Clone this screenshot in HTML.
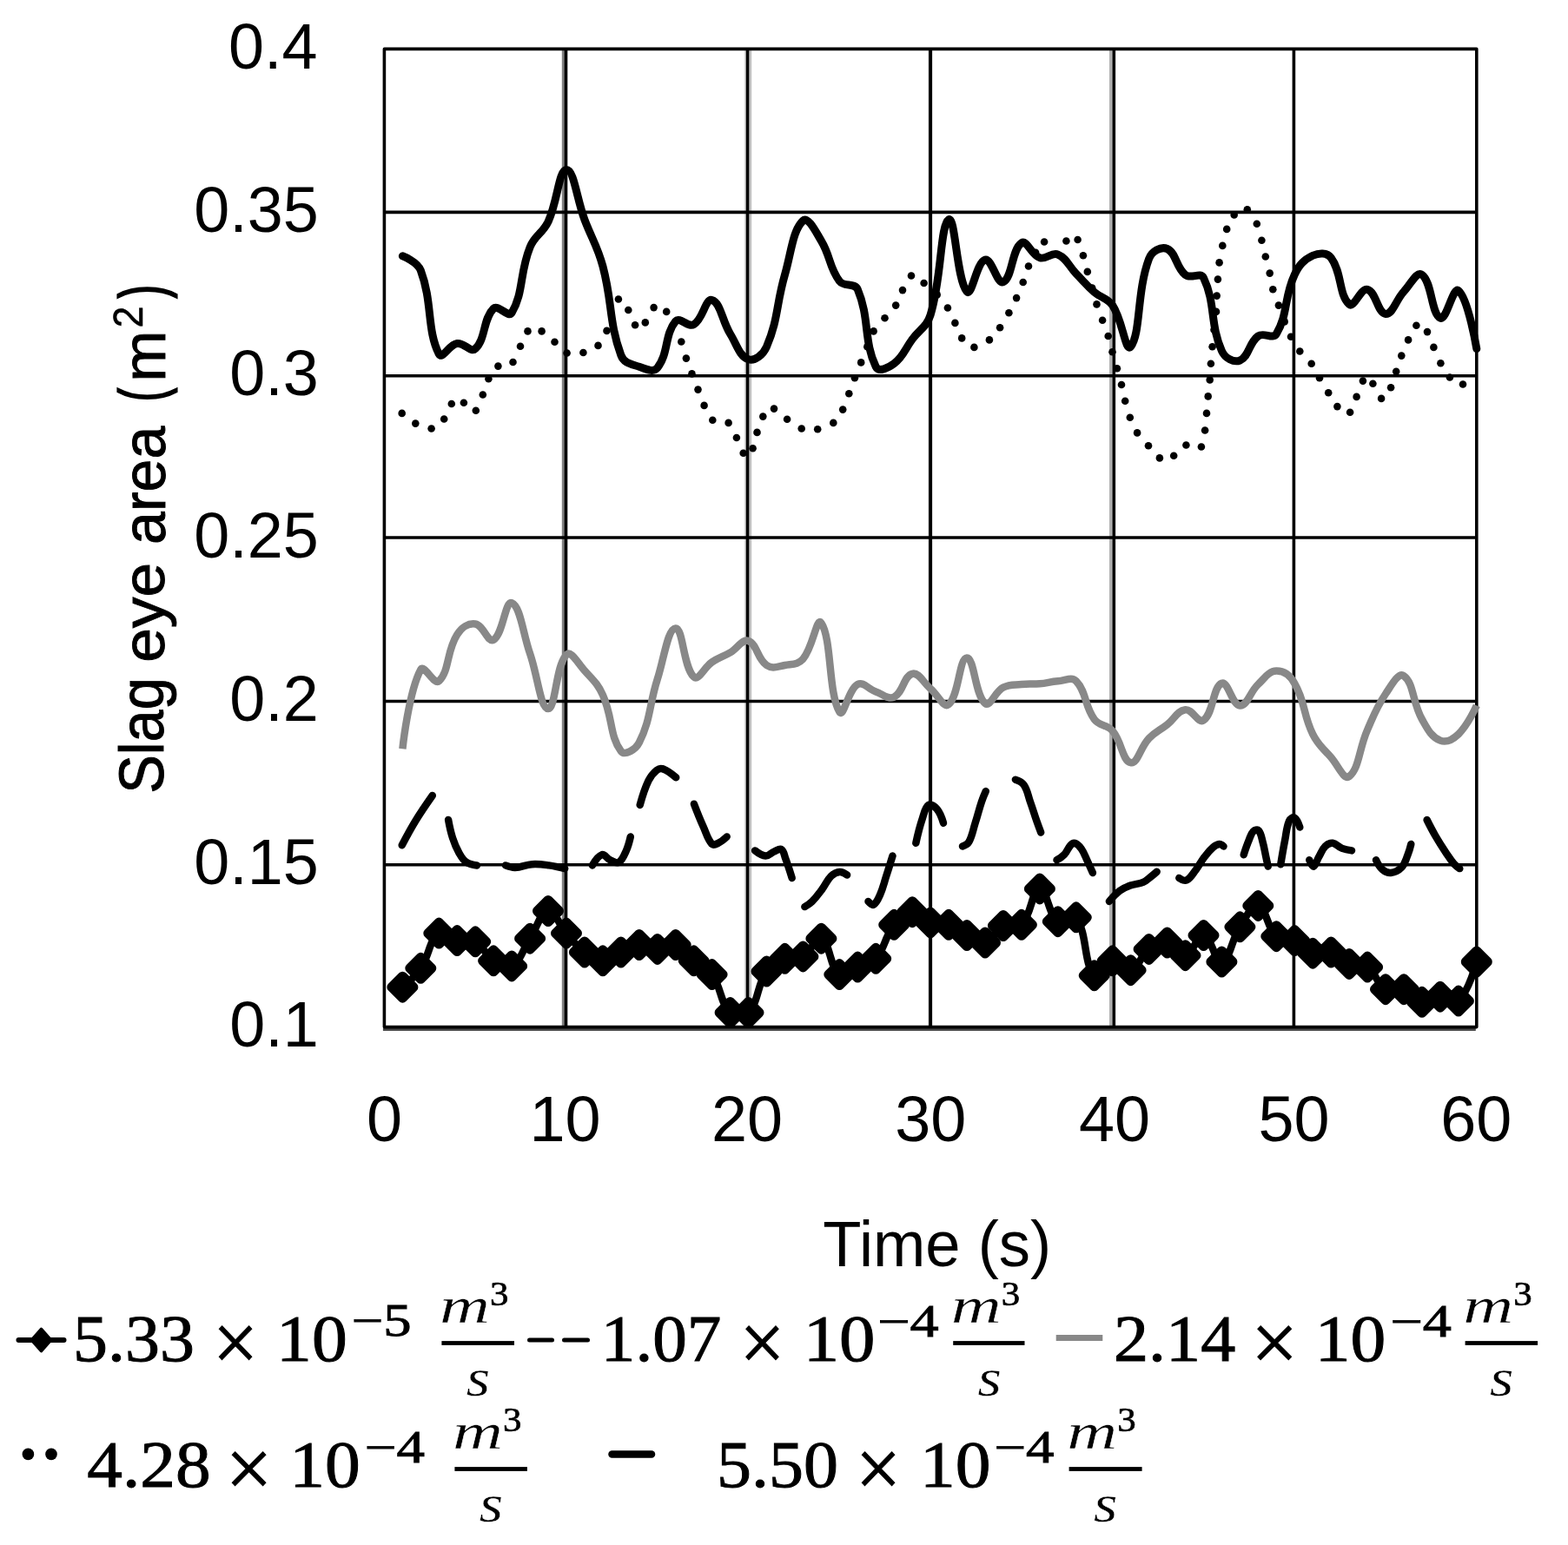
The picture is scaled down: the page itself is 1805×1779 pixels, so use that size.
<!DOCTYPE html>
<html lang="en"><head><meta charset="utf-8"><title>Slag eye area vs time</title>
<style>html,body{margin:0;padding:0;background:#fff}svg{display:block}.s{font-family:"Liberation Sans",sans-serif;fill:#000}.m{font-family:"Liberation Serif",serif;fill:#000;stroke:#000}.i{font-family:"Liberation Serif",serif;font-style:italic;fill:#000;paint-order:fill stroke}</style></head><body>
<svg width="1805" height="1779" viewBox="0 0 1805 1779">
<rect x="-5" y="-5" width="1815" height="1789" fill="#fff"/>
<line x1="648.5" y1="56.4" x2="648.5" y2="1182.6" stroke="#808080" stroke-width="3.4"/>
<line x1="863.6" y1="56.4" x2="863.6" y2="1182.6" stroke="#c2c2c2" stroke-width="3.2"/>
<line x1="857.9" y1="56.4" x2="857.9" y2="1182.6" stroke="#dddddd" stroke-width="2.2"/>
<line x1="1069.6" y1="56.4" x2="1069.6" y2="1182.6" stroke="#555555" stroke-width="1.6"/>
<line x1="1278.8" y1="56.4" x2="1278.8" y2="1182.6" stroke="#b0b0b0" stroke-width="3.6"/>
<line x1="440.9" y1="1185.4" x2="1698.8" y2="1185.4" stroke="#4a4a4a" stroke-width="3"/>
<g stroke="#000" stroke-width="3.6" fill="none" stroke-linejoin="round">
<rect x="442.4" y="56.4" width="1257.4" height="1126.2"/>
<line x1="651.5" y1="56.4" x2="651.5" y2="1182.6"/>
<line x1="860.5" y1="56.4" x2="860.5" y2="1182.6"/>
<line x1="1071.3" y1="56.4" x2="1071.3" y2="1182.6"/>
<line x1="1282.3" y1="56.4" x2="1282.3" y2="1182.6"/>
<line x1="1489.4" y1="56.4" x2="1489.4" y2="1182.6"/>
<line x1="442.4" y1="244.4" x2="1699.8" y2="244.4"/>
<line x1="442.4" y1="432.7" x2="1699.8" y2="432.7"/>
<line x1="442.4" y1="619" x2="1699.8" y2="619"/>
<line x1="442.4" y1="807.5" x2="1699.8" y2="807.5"/>
<line x1="442.4" y1="995.8" x2="1699.8" y2="995.8"/>
</g>
<path d="M463.4 862.3C463.4 862.3 470.4 796.8 484.3 770.9C488 764.1 500 789.4 505.3 784.3C517.6 772.5 513.8 750.2 526.2 730.7C531.4 722.5 539 717.3 547.2 718.5C556.6 719.9 561.6 740.6 568.1 736.8C579.2 730.3 581.5 691.2 589.1 694.1C599.1 697.9 601.6 728 610.1 752.6C619.2 779.2 622.1 815.8 631 816C639.7 816.3 639.6 766.8 652 753.9C657.2 748.4 665.1 763.5 672.9 772.1C682.7 783 687.9 786.9 693.9 800.2C705.5 825.9 701.7 847.6 714.8 864.8C719.3 870.6 731.7 863.1 735.8 855C749.3 828.3 747.1 812.3 756.8 781.9C764.7 757 768.7 723.9 777.7 723.4C786.3 722.9 786.5 768.2 798.7 779.5C804.1 784.5 810.2 768.7 819.6 762.4C827.8 756.9 832 756.4 840.6 751.4C849.6 746.2 854.2 735.5 861.5 738C871.8 741.6 871.5 758.7 882.5 766C889.1 770.5 894.9 767.5 903.5 766C912.5 764.5 918.7 765.4 924.4 758.7C936.3 744.9 940 709.4 945.4 717.3C957.6 735 953.4 797.9 966.3 819.7C971 827.6 976.2 794.1 987.3 788C993.9 784.4 999.3 793.4 1008.2 796.5C1016.9 799.5 1022.3 806 1029.2 802.6C1039.9 797.3 1040.3 778.1 1050.2 775.8C1057.9 774 1062.4 785.5 1071.1 792.9C1080 800.4 1086.3 816 1092.1 811.1C1103.9 801.1 1104.1 757.8 1113 757.5C1121.7 757.3 1122.2 800.3 1134 809.9C1139.8 814.7 1145 796.9 1154.9 791.6C1162.6 787.6 1167 788.9 1175.9 788C1184.6 787.1 1188.1 788 1196.9 787.3C1205.7 786.5 1209 784.9 1217.8 784.3C1226.6 783.7 1233.5 778.8 1238.8 784.3C1251.1 797.2 1248.1 812.3 1259.7 828.2C1265.7 836.4 1274.1 833.8 1280.7 841.6C1291.7 854.8 1292 876.2 1301.6 878.2C1309.6 879.8 1312.5 860.7 1322.6 850.2C1330.1 842.2 1334.9 841.1 1343.6 834.3C1352.5 827.3 1355.2 818.3 1364.5 817.2C1372.8 816.3 1379.5 833.8 1385.5 829.4C1397.1 821 1396 791 1406.4 786.8C1413.6 783.8 1418.5 812.1 1427.4 812.4C1436.1 812.6 1438.6 797.2 1448.3 788C1456.2 780.5 1460.4 772.9 1469.3 772.6C1478 772.4 1485.2 777.9 1490.2 786.8C1502.8 808.5 1499.8 822.1 1511.2 845.3C1517.4 858 1522.9 861.3 1532.2 872.1C1540.5 881.7 1547 898.6 1553.1 894C1564.6 885.3 1564.3 862.5 1574.1 840.4C1581.9 822.6 1584.3 814.9 1595 799C1601.9 788.8 1609.8 773.9 1616 778.2C1627.4 786.2 1625.9 808.6 1636.9 828.2C1643.5 839.8 1647.5 848.3 1657.9 852.6C1665.1 855.5 1672.5 851.4 1678.9 845.3C1690.1 834.5 1699.8 812.4 1699.8 812.4" fill="none" stroke="#888" stroke-width="8.5" stroke-linejoin="round"/>
<g fill="#000"><circle cx="462.7" cy="475.9" r="4.3"/><circle cx="478.3" cy="487.6" r="4.3"/><circle cx="496.6" cy="493.5" r="4.3"/><circle cx="511.2" cy="482.5" r="4.3"/><circle cx="519.8" cy="465" r="4.3"/><circle cx="533.9" cy="463.8" r="4.3"/><circle cx="547.8" cy="472.8" r="4.3"/><circle cx="555.8" cy="454.5" r="4.3"/><circle cx="562.4" cy="436.2" r="4.3"/><circle cx="573.4" cy="421.6" r="4.3"/><circle cx="590.5" cy="417" r="4.3"/><circle cx="599" cy="398.7" r="4.3"/><circle cx="607.5" cy="381.4" r="4.3"/><circle cx="623.6" cy="381.4" r="4.3"/><circle cx="638.5" cy="393.8" r="4.3"/><circle cx="652.6" cy="406.5" r="4.3"/><circle cx="671.4" cy="406" r="4.3"/><circle cx="688.5" cy="397.9" r="4.3"/><circle cx="698.5" cy="380.9" r="4.3"/><circle cx="711.9" cy="344.5" r="4.3"/><circle cx="723.3" cy="357" r="4.3"/><circle cx="731.1" cy="374.3" r="4.3"/><circle cx="742.8" cy="371.4" r="4.3"/><circle cx="752.6" cy="354.1" r="4.3"/><circle cx="767.2" cy="358.9" r="4.3"/><circle cx="784.3" cy="393.5" r="4.3"/><circle cx="789.9" cy="412.6" r="4.3"/><circle cx="796.5" cy="430.4" r="4.3"/><circle cx="803.5" cy="448.6" r="4.3"/><circle cx="810.6" cy="466.9" r="4.3"/><circle cx="820.3" cy="483.7" r="4.3"/><circle cx="838.6" cy="486.9" r="4.3"/><circle cx="847.9" cy="504" r="4.3"/><circle cx="855.7" cy="521.8" r="4.3"/><circle cx="866.6" cy="516.2" r="4.3"/><circle cx="871.5" cy="497.9" r="4.3"/><circle cx="878.3" cy="479.6" r="4.3"/><circle cx="891" cy="470.6" r="4.3"/><circle cx="906.1" cy="482.8" r="4.3"/><circle cx="922.7" cy="493.5" r="4.3"/><circle cx="941.2" cy="494.2" r="4.3"/><circle cx="959.3" cy="486.9" r="4.3"/><circle cx="970.2" cy="471.6" r="4.3"/><circle cx="977.3" cy="453.3" r="4.3"/><circle cx="983.9" cy="435.2" r="4.3"/><circle cx="991.2" cy="417.4" r="4.3"/><circle cx="998.3" cy="399.2" r="4.3"/><circle cx="1005.6" cy="381.4" r="4.3"/><circle cx="1018.5" cy="366.2" r="4.3"/><circle cx="1031.2" cy="351.6" r="4.3"/><circle cx="1039" cy="334.1" r="4.3"/><circle cx="1049" cy="317.5" r="4.3"/><circle cx="1063.6" cy="326" r="4.3"/><circle cx="1078.7" cy="339.4" r="4.3"/><circle cx="1090.9" cy="354.5" r="4.3"/><circle cx="1099.4" cy="371.9" r="4.3"/><circle cx="1107.2" cy="389.4" r="4.3"/><circle cx="1121.4" cy="399.9" r="4.3"/><circle cx="1138.9" cy="391.4" r="4.3"/><circle cx="1151.1" cy="377.2" r="4.3"/><circle cx="1161.4" cy="360.2" r="4.3"/><circle cx="1170.1" cy="343.1" r="4.3"/><circle cx="1177.7" cy="325" r="4.3"/><circle cx="1184" cy="306.5" r="4.3"/><circle cx="1192.1" cy="290.7" r="4.3"/><circle cx="1202.1" cy="278.5" r="4.3"/><circle cx="1227.4" cy="277.5" r="4.3"/><circle cx="1240.6" cy="276" r="4.3"/><circle cx="1246.9" cy="294.3" r="4.3"/><circle cx="1251.8" cy="312.9" r="4.3"/><circle cx="1257.2" cy="331.6" r="4.3"/><circle cx="1262.5" cy="350.4" r="4.3"/><circle cx="1269.1" cy="368.7" r="4.3"/><circle cx="1275.7" cy="387" r="4.3"/><circle cx="1280.5" cy="405.3" r="4.3"/><circle cx="1285.9" cy="424.3" r="4.3"/><circle cx="1291" cy="443" r="4.3"/><circle cx="1295.2" cy="461.8" r="4.3"/><circle cx="1300.8" cy="480.8" r="4.3"/><circle cx="1309.1" cy="498.4" r="4.3"/><circle cx="1322" cy="513.2" r="4.3"/><circle cx="1334.9" cy="527.4" r="4.3"/><circle cx="1351.2" cy="524.7" r="4.3"/><circle cx="1365.4" cy="512.5" r="4.3"/><circle cx="1382.9" cy="514.5" r="4.3"/><circle cx="1387.1" cy="495.5" r="4.3"/><circle cx="1389" cy="475.9" r="4.3"/><circle cx="1390.7" cy="456.4" r="4.3"/><circle cx="1392.7" cy="437.4" r="4.3"/><circle cx="1393.9" cy="418.7" r="4.3"/><circle cx="1395.6" cy="399.2" r="4.3"/><circle cx="1397.5" cy="379.7" r="4.3"/><circle cx="1400" cy="358.9" r="4.3"/><circle cx="1400.7" cy="340.6" r="4.3"/><circle cx="1401.9" cy="321.6" r="4.3"/><circle cx="1403.6" cy="302.4" r="4.3"/><circle cx="1407.3" cy="282.9" r="4.3"/><circle cx="1412.2" cy="263.9" r="4.3"/><circle cx="1420.7" cy="247.5" r="4.3"/><circle cx="1435.8" cy="241.2" r="4.3"/><circle cx="1446.8" cy="257.8" r="4.3"/><circle cx="1452.4" cy="276.8" r="4.3"/><circle cx="1456.8" cy="295.5" r="4.3"/><circle cx="1461.7" cy="314.6" r="4.3"/><circle cx="1465.3" cy="333.3" r="4.3"/><circle cx="1471.9" cy="351.6" r="4.3"/><circle cx="1478.7" cy="370.4" r="4.3"/><circle cx="1486" cy="387.7" r="4.3"/><circle cx="1496.3" cy="404.5" r="4.3"/><circle cx="1509.7" cy="418.7" r="4.3"/><circle cx="1519" cy="435.2" r="4.3"/><circle cx="1529.2" cy="452.3" r="4.3"/><circle cx="1539.4" cy="468.1" r="4.3"/><circle cx="1554.1" cy="474.7" r="4.3"/><circle cx="1561.6" cy="456.9" r="4.3"/><circle cx="1568.9" cy="438.6" r="4.3"/><circle cx="1580.4" cy="441.8" r="4.3"/><circle cx="1590.1" cy="458.9" r="4.3"/><circle cx="1601.1" cy="446.2" r="4.3"/><circle cx="1607.2" cy="427.7" r="4.3"/><circle cx="1613.3" cy="409.6" r="4.3"/><circle cx="1621.1" cy="391.4" r="4.3"/><circle cx="1630.4" cy="374.8" r="4.3"/><circle cx="1643" cy="382.1" r="4.3"/><circle cx="1650.4" cy="399.9" r="4.3"/><circle cx="1658.4" cy="418.2" r="4.3"/><circle cx="1668.9" cy="434.5" r="4.3"/><circle cx="1684" cy="442.5" r="4.3"/></g>
<g fill="none" stroke="#000" stroke-width="8.5" stroke-linecap="round" stroke-linejoin="round">
<path d="M462.7 973.3C462.7 973.3 471.6 956.2 478.3 945.2C485.7 933.2 497.8 916 497.8 916"/>
<path d="M516.1 944C516.1 944 518.4 956.7 521 964.7C523.3 971.8 524.7 975.4 528.3 981.8C531 986.6 532.5 989.7 536.8 992.8C540.8 995.6 549 996.4 549 996.4"/>
<path d="M581.9 996.4C581.9 996.4 588.5 999 592.9 998.9C600.7 998.5 604.5 995.7 612.4 995.2C620.1 994.7 624.2 995.4 631.9 996.4C639.3 997.4 650.2 1000.1 650.2 1000.1"/>
<path d="M681.9 996.4C681.9 996.4 688 985.7 692.8 984.2C696.3 983.2 698.4 988.5 702.6 990.3C706.2 991.9 709.5 994.5 712.4 992.8C716.8 990.1 718.3 985.1 720.9 979.4C723.6 973.4 725.8 963.5 725.8 963.5"/>
<path d="M736.7 926.9C736.7 926.9 741.4 909.5 746.5 898.9C749.2 893.4 751.6 890.4 756.2 886.7C758.4 885 760.9 884.5 763.5 885.5C769.7 887.9 778.2 895.3 778.2 895.3"/>
<path d="M798.9 925.7C798.9 925.7 805.1 942 809.9 952.5C813.4 960.5 814.5 966.6 819.6 972C821.3 973.9 824.3 972.1 826.9 970.8C831.2 968.7 836.7 963.5 836.7 963.5"/>
<path d="M869.1 979.4C869.1 979.4 876.4 985.2 881.3 985.5C885.2 985.7 887 982.2 891 980.6C894.3 979.3 897.3 976.7 899.5 978.1C902.6 980.1 902.7 984.6 904.4 989.1C907.6 997.8 911.7 1011 911.7 1011"/>
<path d="M926.4 1044.1C926.4 1044.1 931.9 1041 934.9 1038C939.7 1033.2 941.7 1030.1 945.9 1024.6C950.5 1018.4 951.5 1014.1 956.8 1008.8C959.8 1005.8 962.6 1004.1 966.6 1003.9C969.9 1003.7 975.1 1007.5 975.1 1007.5"/>
<path d="M999.5 1038C999.5 1038 1003.7 1042.7 1005.6 1041.7C1009.1 1039.8 1010.8 1035.5 1012.9 1030.7C1016.6 1022.3 1017.4 1017.6 1020.2 1008.8C1023.2 999.5 1027.5 985.6 1027.5 985.6"/>
<path d="M1054.3 970.8C1054.3 970.8 1058 953.7 1061.7 942.8C1063.9 936.2 1064.8 929.6 1069 926.9C1071.6 925.3 1076.1 928.6 1078.7 931.8C1082.9 936.9 1086 947.7 1086 947.7"/>
<path d="M1108 974.5C1108 974.5 1113.7 972.6 1115.3 969.6C1119.5 961.8 1119.8 956.5 1122.6 947.7C1125.7 938 1126.7 932.9 1129.9 923.3C1131.6 918.3 1134.8 911.1 1134.8 911.1"/>
<path d="M1168.9 897.7C1168.9 897.7 1176.2 900.1 1178.7 903.8C1183.1 910.4 1183.2 915.4 1186 923.3C1189.1 932 1190.3 936.5 1193.3 945.2C1195.2 950.6 1198.2 958.6 1198.2 958.6"/>
<path d="M1216.5 990.3C1216.5 990.3 1222.2 987.3 1225 984.2C1228.5 980.4 1228.9 977.1 1232.3 973.3C1233.7 971.7 1235.4 970.3 1237.2 970.8C1240.3 971.8 1242.3 973.9 1244.5 976.9C1248.2 982.2 1249 985.6 1251.8 991.5C1254.3 996.9 1257.9 1005 1257.9 1005"/>
<path d="M1276.9 1037.9C1276.9 1037.9 1283.6 1029.8 1289.1 1025.7C1293.4 1022.4 1296.2 1021.4 1301.3 1019.6C1306.9 1017.5 1310.4 1018.2 1315.9 1015.9C1319.7 1014.3 1321.1 1012.4 1324.4 1009.8C1327.4 1007.5 1331.7 1003.7 1331.7 1003.7"/>
<path d="M1357.3 1011C1357.3 1011 1363.1 1014.9 1365.9 1013.5C1370.9 1011 1372.8 1006.5 1376.8 1001.3C1381.1 995.7 1382.3 992.2 1386.6 986.7C1390.1 982 1391.9 979.5 1396.3 975.7C1398.8 973.6 1400.7 972.3 1403.6 972C1405.6 971.8 1408.5 974.5 1408.5 974.5"/>
<path d="M1431.7 984.2C1431.7 984.2 1435 973.9 1437.8 967.2C1439.4 963.1 1439.9 960.2 1442.6 957.4C1444.2 955.8 1447.4 954.7 1448.7 956.2C1451.8 959.6 1452.1 964.1 1453.6 969.6C1455.5 976.3 1455.8 979.8 1457.3 986.7C1458.2 991.1 1459.7 997.6 1459.7 997.6"/>
<path d="M1474.3 995.2C1474.3 995.2 1477 978.3 1479.2 967.2C1480.9 958.3 1480.8 953 1484.1 945.2C1485.1 942.8 1488.4 940.5 1490.2 941.6C1493.3 943.4 1496.3 952.5 1496.3 952.5"/>
<path d="M1507.3 990.3C1507.3 990.3 1510.3 998.2 1512.1 997.6C1514.7 996.8 1515.7 991 1518.2 986.7C1521.1 981.7 1521.7 978.3 1525.5 974.5C1528 972 1530.8 970.4 1534.1 970.8C1538.6 971.4 1540.4 975.1 1545 976.9C1549.2 978.5 1556 979.4 1556 979.4"/>
<path d="M1584 990.3C1584 990.3 1587.5 998 1591.4 1001.3C1594.4 1003.9 1597.3 1005.4 1601.1 1005C1606.1 1004.4 1609.8 1002.6 1613.3 998.9C1617.6 994.3 1618.1 990.3 1620.6 984.2C1622.5 979.5 1624.3 972 1624.3 972"/>
<path d="M1642.6 944C1642.6 944 1648.1 955.1 1652.3 962.3C1656.9 970.2 1659.4 974.1 1664.5 981.8C1668.2 987.3 1669.9 990.2 1674.2 995.2C1676.3 997.5 1680.3 1000.1 1680.3 1000.1"/>
</g>
<path d="M463.4 294.8C463.4 294.8 480.6 301.3 484.3 311.4C498.2 348.7 491.1 379.3 505.3 407.7C508.7 414.7 517 396.8 526.2 395.5C534.6 394.3 541.9 406.7 547.2 401.6C559.5 389.8 555.8 367.5 568.1 355.3C573.4 350.1 585.3 366.5 589.1 360.2C602.9 336.9 598 314.8 610.1 284.6C615.6 270.7 624.6 268.9 631 255.3C642.2 231.5 643 196.1 652 195.6C660.6 195.1 663.9 228.9 672.9 252.9C681.5 275.5 687.6 283.2 693.9 306.5C705.2 348.8 700.6 369.6 714.8 408.9C718.2 418.3 726.3 419 735.8 422.3C743.9 425.1 752.1 429.4 756.8 423.5C769.7 407.4 764.9 385.2 777.7 369.9C782.5 364.2 792 377.4 798.7 373.6C809.6 367.2 811.9 343.5 819.6 345.5C829.5 348.1 830.9 368.7 840.6 384.5C848.5 397.4 851.2 410.2 861.5 413.8C868.9 416.3 878.4 408.6 882.5 399.2C896 367.6 893.5 350.7 903.5 316.3C911.1 289.8 912.5 265.2 924.4 254.1C930.1 248.8 938.7 266.2 945.4 277.3C956.3 295.3 954.2 307.4 966.3 323.6C971.8 330.9 983.7 325 987.3 333.3C1001.3 366.4 994 393.2 1008.2 422.3C1011.6 429.1 1022.5 423.7 1029.2 418.7C1040.1 410.4 1041.4 402.4 1050.2 390.6C1059 378.8 1066.9 376.4 1071.1 362.6C1084.5 318.5 1082.1 259.3 1092.1 252.9C1099.7 248 1101.2 322.7 1113 335.8C1118.8 342.2 1124.1 301.8 1134 299.2C1141.7 297.2 1147.9 328.1 1154.9 324.8C1165.5 319.9 1164.5 287.3 1175.9 279.7C1182.1 275.6 1187 293.6 1196.9 296.8C1204.6 299.2 1210.6 289.9 1217.8 293.1C1228.2 297.6 1229.9 305.9 1238.8 315.1C1247.5 324 1250.3 328.1 1259.7 336.3C1267.9 343.4 1274.8 342.8 1280.7 351.6C1292.4 369.2 1295.7 406.7 1301.6 399.2C1313.4 384.2 1308.3 336.4 1322.6 298C1325.9 289.1 1336.6 283.5 1343.6 286.5C1354.2 291.2 1353.4 307.6 1364.5 316.5C1371 321.7 1382 312.7 1385.5 319.9C1399.6 349.5 1392.6 372.7 1406.4 404C1410.2 412.6 1420.3 417.9 1427.4 415C1437.9 410.7 1437.4 395 1448.3 387C1455 382.2 1465.3 391.3 1469.3 384.5C1482.9 361.6 1477.9 342.9 1490.2 316.3C1495.5 305 1500.8 299.2 1511.2 294.3C1518.4 291 1527.4 290.5 1532.2 296.8C1545 314 1541.1 339.9 1553.1 350.4C1558.7 355.3 1566.4 331.3 1574.1 333.3C1584 335.9 1586 360.8 1595 361.4C1603.6 361.9 1606.6 345.9 1616 335.8C1624.2 327 1630.9 311.8 1636.9 316.3C1648.5 324.6 1647.6 361.7 1657.9 366.2C1665.2 369.4 1672.7 329.3 1678.9 334.6C1690.3 344.2 1699.8 401.6 1699.8 401.6" fill="none" stroke="#000" stroke-width="9" stroke-linecap="round" stroke-linejoin="round"/>
<path d="M463.4 1136.7C463.4 1136.7 477.3 1125.3 484.3 1114.8C494.9 1099.2 493.5 1083.5 505.3 1074.6C511.1 1070.1 517.1 1081 526.2 1083.1C534.7 1085.1 540 1080.4 547.2 1084.3C557.6 1090.1 557.9 1099.4 568.1 1106.3C575.5 1111.2 582.7 1116.3 589.1 1112.4C600.3 1105.5 601.3 1094 610.1 1080.7C618.9 1067.4 621.6 1050.3 631 1049C639.2 1047.8 642.8 1064.2 652 1074.6C660.4 1084.1 662.9 1089 672.9 1096.5C680.5 1102.3 685.1 1106.3 693.9 1106.3C702.7 1106.3 705.9 1100.4 714.8 1096.5C723.5 1092.7 726.8 1088.8 735.8 1088C744.4 1087.2 748 1092.9 756.8 1092.9C765.6 1092.9 770 1085.5 777.7 1088C787.6 1091.2 789.6 1098.9 798.7 1106.3C807.2 1113.2 813.5 1113.3 819.6 1122.1C831.1 1138.4 828.3 1153.1 840.6 1166C845.9 1171.5 856.5 1171.7 861.5 1166C874.1 1151.8 870.7 1136 882.5 1118.5C888.3 1109.9 893.8 1107.8 903.5 1103.8C911.4 1100.6 917.1 1105.5 924.4 1101.4C934.7 1095.7 938.5 1077.3 945.4 1080.7C956.1 1086 954.5 1112.8 966.3 1122.1C972.1 1126.6 978.6 1117.4 987.3 1113.6C996.2 1109.7 1002.2 1110.9 1008.2 1103.8C1019.8 1090.4 1018 1079.1 1029.2 1064.8C1035.6 1056.6 1041.1 1050.7 1050.2 1050.2C1058.7 1049.7 1061.7 1059.1 1071.1 1062.4C1079.3 1065.2 1083.9 1062 1092.1 1064.8C1101.5 1068.1 1103.9 1072.5 1113 1077C1121.5 1081.2 1126.2 1087.6 1134 1085.5C1143.8 1083 1144.8 1071.1 1154.9 1066C1162.4 1062.4 1170.4 1070.4 1175.9 1064.8C1188 1052.5 1187.7 1024.2 1196.9 1023.4C1205.3 1022.6 1206.1 1051.9 1217.8 1061.2C1223.7 1065.8 1234.6 1050.2 1238.8 1056.3C1252.2 1076.3 1247 1108.2 1259.7 1123.3C1264.6 1129.2 1271.3 1107.6 1280.7 1106.3C1288.9 1105.1 1294.2 1119.6 1301.6 1117.2C1311.8 1114 1312.2 1100.7 1322.6 1092.9C1329.8 1087.4 1335.4 1084.1 1343.6 1085.5C1353 1087.2 1356.6 1101.8 1364.5 1100.2C1374.2 1098.2 1377.4 1075.6 1385.5 1077C1395 1078.7 1398.5 1109.3 1406.4 1107.5C1416.1 1105.2 1417.1 1083.1 1427.4 1067.3C1434.7 1056 1440.6 1040.9 1448.3 1042.9C1458.2 1045.5 1457.7 1067.1 1469.3 1078.2C1475.3 1084 1482.2 1079.4 1490.2 1083.1C1499.8 1087.6 1501.5 1094.6 1511.2 1097.7C1519.1 1100.3 1524.1 1094.2 1532.2 1096.5C1541.7 1099.3 1543.6 1106.1 1553.1 1109.9C1561.2 1113.2 1567.2 1108.8 1574.1 1113.6C1584.8 1121.1 1584.3 1132.6 1595 1139.2C1601.9 1143.4 1608.1 1136.4 1616 1139.2C1625.7 1142.6 1627.5 1151.9 1636.9 1153.8C1645.1 1155.5 1649 1148 1657.9 1147.7C1666.6 1147.5 1673.5 1157.7 1678.9 1152.6C1691.2 1140.8 1699.8 1107.5 1699.8 1107.5" fill="none" stroke="#000" stroke-width="8.5" stroke-linejoin="round" stroke-linecap="round"/>
<g fill="#000" stroke="#000" stroke-width="11" stroke-linejoin="round"><path d="M450.9 1136.7l12.5 -12.5l12.5 12.5l-12.5 12.5z"/><path d="M471.8 1114.8l12.5 -12.5l12.5 12.5l-12.5 12.5z"/><path d="M492.8 1074.6l12.5 -12.5l12.5 12.5l-12.5 12.5z"/><path d="M513.7 1083.1l12.5 -12.5l12.5 12.5l-12.5 12.5z"/><path d="M534.7 1084.3l12.5 -12.5l12.5 12.5l-12.5 12.5z"/><path d="M555.6 1106.3l12.5 -12.5l12.5 12.5l-12.5 12.5z"/><path d="M576.6 1112.4l12.5 -12.5l12.5 12.5l-12.5 12.5z"/><path d="M597.6 1080.7l12.5 -12.5l12.5 12.5l-12.5 12.5z"/><path d="M618.5 1049l12.5 -12.5l12.5 12.5l-12.5 12.5z"/><path d="M639.5 1074.6l12.5 -12.5l12.5 12.5l-12.5 12.5z"/><path d="M660.4 1096.5l12.5 -12.5l12.5 12.5l-12.5 12.5z"/><path d="M681.4 1106.3l12.5 -12.5l12.5 12.5l-12.5 12.5z"/><path d="M702.3 1096.5l12.5 -12.5l12.5 12.5l-12.5 12.5z"/><path d="M723.3 1088l12.5 -12.5l12.5 12.5l-12.5 12.5z"/><path d="M744.3 1092.9l12.5 -12.5l12.5 12.5l-12.5 12.5z"/><path d="M765.2 1088l12.5 -12.5l12.5 12.5l-12.5 12.5z"/><path d="M786.2 1106.3l12.5 -12.5l12.5 12.5l-12.5 12.5z"/><path d="M807.1 1122.1l12.5 -12.5l12.5 12.5l-12.5 12.5z"/><path d="M828.1 1166l12.5 -12.5l12.5 12.5l-12.5 12.5z"/><path d="M849 1166l12.5 -12.5l12.5 12.5l-12.5 12.5z"/><path d="M870 1118.5l12.5 -12.5l12.5 12.5l-12.5 12.5z"/><path d="M891 1103.8l12.5 -12.5l12.5 12.5l-12.5 12.5z"/><path d="M911.9 1101.4l12.5 -12.5l12.5 12.5l-12.5 12.5z"/><path d="M932.9 1080.7l12.5 -12.5l12.5 12.5l-12.5 12.5z"/><path d="M953.8 1122.1l12.5 -12.5l12.5 12.5l-12.5 12.5z"/><path d="M974.8 1113.6l12.5 -12.5l12.5 12.5l-12.5 12.5z"/><path d="M995.7 1103.8l12.5 -12.5l12.5 12.5l-12.5 12.5z"/><path d="M1016.7 1064.8l12.5 -12.5l12.5 12.5l-12.5 12.5z"/><path d="M1037.7 1050.2l12.5 -12.5l12.5 12.5l-12.5 12.5z"/><path d="M1058.6 1062.4l12.5 -12.5l12.5 12.5l-12.5 12.5z"/><path d="M1079.6 1064.8l12.5 -12.5l12.5 12.5l-12.5 12.5z"/><path d="M1100.5 1077l12.5 -12.5l12.5 12.5l-12.5 12.5z"/><path d="M1121.5 1085.5l12.5 -12.5l12.5 12.5l-12.5 12.5z"/><path d="M1142.4 1066l12.5 -12.5l12.5 12.5l-12.5 12.5z"/><path d="M1163.4 1064.8l12.5 -12.5l12.5 12.5l-12.5 12.5z"/><path d="M1184.4 1023.4l12.5 -12.5l12.5 12.5l-12.5 12.5z"/><path d="M1205.3 1061.2l12.5 -12.5l12.5 12.5l-12.5 12.5z"/><path d="M1226.3 1056.3l12.5 -12.5l12.5 12.5l-12.5 12.5z"/><path d="M1247.2 1123.3l12.5 -12.5l12.5 12.5l-12.5 12.5z"/><path d="M1268.2 1106.3l12.5 -12.5l12.5 12.5l-12.5 12.5z"/><path d="M1289.1 1117.2l12.5 -12.5l12.5 12.5l-12.5 12.5z"/><path d="M1310.1 1092.9l12.5 -12.5l12.5 12.5l-12.5 12.5z"/><path d="M1331.1 1085.5l12.5 -12.5l12.5 12.5l-12.5 12.5z"/><path d="M1352 1100.2l12.5 -12.5l12.5 12.5l-12.5 12.5z"/><path d="M1373 1077l12.5 -12.5l12.5 12.5l-12.5 12.5z"/><path d="M1393.9 1107.5l12.5 -12.5l12.5 12.5l-12.5 12.5z"/><path d="M1414.9 1067.3l12.5 -12.5l12.5 12.5l-12.5 12.5z"/><path d="M1435.8 1042.9l12.5 -12.5l12.5 12.5l-12.5 12.5z"/><path d="M1456.8 1078.2l12.5 -12.5l12.5 12.5l-12.5 12.5z"/><path d="M1477.8 1083.1l12.5 -12.5l12.5 12.5l-12.5 12.5z"/><path d="M1498.7 1097.7l12.5 -12.5l12.5 12.5l-12.5 12.5z"/><path d="M1519.7 1096.5l12.5 -12.5l12.5 12.5l-12.5 12.5z"/><path d="M1540.6 1109.9l12.5 -12.5l12.5 12.5l-12.5 12.5z"/><path d="M1561.6 1113.6l12.5 -12.5l12.5 12.5l-12.5 12.5z"/><path d="M1582.5 1139.2l12.5 -12.5l12.5 12.5l-12.5 12.5z"/><path d="M1603.5 1139.2l12.5 -12.5l12.5 12.5l-12.5 12.5z"/><path d="M1624.4 1153.8l12.5 -12.5l12.5 12.5l-12.5 12.5z"/><path d="M1645.4 1147.7l12.5 -12.5l12.5 12.5l-12.5 12.5z"/><path d="M1666.4 1152.6l12.5 -12.5l12.5 12.5l-12.5 12.5z"/><path d="M1687.3 1107.5l12.5 -12.5l12.5 12.5l-12.5 12.5z"/></g>
<text class="s" font-size="100" transform="matrix(0.7378 0 0 0.7388 263.07 79.05)">0.4</text>
<text class="s" font-size="100" transform="matrix(0.7378 0 0 0.7388 223.19 267.05)">0.35</text>
<text class="s" font-size="100" transform="matrix(0.7378 0 0 0.7388 264.23 455.35)">0.3</text>
<text class="s" font-size="100" transform="matrix(0.7378 0 0 0.7388 223.19 641.65)">0.25</text>
<text class="s" font-size="100" transform="matrix(0.7378 0 0 0.7388 264.23 830.15)">0.2</text>
<text class="s" font-size="100" transform="matrix(0.7378 0 0 0.7388 223.19 1018.45)">0.15</text>
<text class="s" font-size="100" transform="matrix(0.7378 0 0 0.7388 264.23 1205.25)">0.1</text>
<text class="s" font-size="100" transform="matrix(0.7378 0 0 0.7471 421.95 1313.53)">0</text>
<text class="s" font-size="100" transform="matrix(0.7378 0 0 0.7471 609.38 1313.53)">10</text>
<text class="s" font-size="100" transform="matrix(0.7378 0 0 0.7471 818.96 1313.53)">20</text>
<text class="s" font-size="100" transform="matrix(0.7378 0 0 0.7471 1030.33 1313.53)">30</text>
<text class="s" font-size="100" transform="matrix(0.7378 0 0 0.7471 1241.91 1313.53)">40</text>
<text class="s" font-size="100" transform="matrix(0.7378 0 0 0.7471 1448.43 1313.53)">50</text>
<text class="s" font-size="100" transform="matrix(0.7378 0 0 0.7471 1658.26 1313.53)">60</text>
<text class="s" font-size="100" transform="matrix(0.7244 0 0 0.7439 947.37 1458.03)">Time (s)</text>
<g transform="translate(190.3 912.2) rotate(-90)">
<text class="s" font-size="100" transform="matrix(0.6677 0 0 0.7208 -1.64 -2.62)" stroke-width="1.3" stroke="#000">Slag</text>
<text class="s" font-size="100" transform="matrix(0.7121 0 0 0.6831 149.42 -1.79)" stroke-width="1.29" stroke="#000">eye</text>
<text class="s" font-size="100" transform="matrix(0.6805 0 0 0.704 285.32 -0.65)" stroke-width="1.3" stroke="#000">area</text>
<text class="s" font-size="100" transform="matrix(0.4267 0 0 0.7229 450.4 -2.71)" stroke-width="4.32" stroke="#000">(</text>
<text class="s" font-size="100" transform="matrix(0.7123 0 0 0.7077 472.4 -0.45)" stroke-width="1.27" stroke="#000">m</text>
<text class="s" font-size="100" transform="matrix(0.448 0 0 0.4779 534.8 -26.6)" stroke-width="1.3" stroke="#000">2</text>
<text class="s" font-size="100" transform="matrix(0.4231 0 0 0.7229 569.4 -2.71)" stroke-width="4.34" stroke="#000">)</text>
</g>
<text class="m" font-size="100" transform="matrix(0.7991 0 0 0.7651 84.05 1566.7)" stroke-width="1.28">5.33</text><text class="m" font-size="100" transform="matrix(0.9221 0 0 0.9481 245.1 1578.35)" stroke-width="1.07">×</text><text class="m" font-size="100" transform="matrix(0.8163 0 0 0.7651 318.12 1566.7)" stroke-width="1.27">10</text><text class="m" font-size="100" transform="matrix(0.6472 0 0 0.5224 404.87 1538.38)" stroke-width="1.72">−5</text><rect x="508.4" y="1544.1" width="83.6" height="4.8" fill="#000"/><text class="i" font-size="100" transform="matrix(0.803 0 0 0.5966 506.04 1523.25)" stroke-width="0.72" stroke="#fff">m</text><text class="m" font-size="100" transform="matrix(0.429 0 0 0.4087 563.94 1503.11)" stroke-width="1.67">3</text><text class="i" font-size="100" transform="matrix(0.7151 0 0 0.612 536.55 1606.79)" stroke-width="0.76" stroke="#fff">s</text>
<text class="m" font-size="100" transform="matrix(0.7915 0 0 0.7651 691.82 1566.7)" stroke-width="1.29">1.07</text><text class="m" font-size="100" transform="matrix(0.9197 0 0 0.9481 851.61 1578.35)" stroke-width="1.07">×</text><text class="m" font-size="100" transform="matrix(0.8286 0 0 0.7651 924.63 1566.7)" stroke-width="1.26">10</text><text class="m" font-size="100" transform="matrix(0.663 0 0 0.5224 1010.19 1539.2)" stroke-width="1.7">−4</text><rect x="1097.2" y="1544.1" width="82.3" height="4.8" fill="#000"/><text class="i" font-size="100" transform="matrix(0.803 0 0 0.5966 1094.84 1523.25)" stroke-width="0.72" stroke="#fff">m</text><text class="m" font-size="100" transform="matrix(0.429 0 0 0.4087 1152.74 1503.11)" stroke-width="1.67">3</text><text class="i" font-size="100" transform="matrix(0.7151 0 0 0.612 1125.35 1606.79)" stroke-width="0.76" stroke="#fff">s</text>
<text class="m" font-size="100" transform="matrix(0.8015 0 0 0.7651 1282 1566.7)" stroke-width="1.28">2.14</text><text class="m" font-size="100" transform="matrix(0.9529 0 0 0.9481 1440.26 1578.35)" stroke-width="1.05">×</text><text class="m" font-size="100" transform="matrix(0.8152 0 0 0.7651 1513.63 1566.7)" stroke-width="1.27">10</text><text class="m" font-size="100" transform="matrix(0.663 0 0 0.5224 1600.39 1539.2)" stroke-width="1.7">−4</text><rect x="1686.6" y="1544.1" width="83.5" height="4.8" fill="#000"/><text class="i" font-size="100" transform="matrix(0.803 0 0 0.5966 1684.24 1523.25)" stroke-width="0.72" stroke="#fff">m</text><text class="m" font-size="100" transform="matrix(0.429 0 0 0.4087 1742.14 1503.11)" stroke-width="1.67">3</text><text class="i" font-size="100" transform="matrix(0.7151 0 0 0.612 1714.75 1606.79)" stroke-width="0.76" stroke="#fff">s</text>
<text class="m" font-size="100" transform="matrix(0.8138 0 0 0.7651 100.23 1711.7)" stroke-width="1.27">4.28</text><text class="m" font-size="100" transform="matrix(0.9505 0 0 0.9481 259.87 1723.35)" stroke-width="1.05">×</text><text class="m" font-size="100" transform="matrix(0.8152 0 0 0.7651 333.13 1711.7)" stroke-width="1.27">10</text><text class="m" font-size="100" transform="matrix(0.65 0 0 0.5224 419.85 1684.2)" stroke-width="1.72">−4</text><rect x="523.4" y="1689.1" width="83.5" height="4.8" fill="#000"/><text class="i" font-size="100" transform="matrix(0.803 0 0 0.5966 521.04 1668.25)" stroke-width="0.72" stroke="#fff">m</text><text class="m" font-size="100" transform="matrix(0.429 0 0 0.4087 578.94 1648.11)" stroke-width="1.67">3</text><text class="i" font-size="100" transform="matrix(0.7151 0 0 0.612 551.55 1751.79)" stroke-width="0.76" stroke="#fff">s</text>
<text class="m" font-size="100" transform="matrix(0.7997 0 0 0.7651 825.05 1711.7)" stroke-width="1.28">5.50</text><text class="m" font-size="100" transform="matrix(0.9221 0 0 0.9481 984.9 1723.35)" stroke-width="1.07">×</text><text class="m" font-size="100" transform="matrix(0.8152 0 0 0.7651 1058.93 1711.7)" stroke-width="1.27">10</text><text class="m" font-size="100" transform="matrix(0.649 0 0 0.5224 1144.46 1684.2)" stroke-width="1.72">−4</text><rect x="1230.6" y="1689.1" width="84" height="4.8" fill="#000"/><text class="i" font-size="100" transform="matrix(0.803 0 0 0.5966 1228.24 1668.25)" stroke-width="0.72" stroke="#fff">m</text><text class="m" font-size="100" transform="matrix(0.429 0 0 0.4087 1286.14 1648.11)" stroke-width="1.67">3</text><text class="i" font-size="100" transform="matrix(0.7151 0 0 0.612 1258.75 1751.79)" stroke-width="0.76" stroke="#fff">s</text>
<line x1="21.5" y1="1543" x2="73.5" y2="1543" stroke="#000" stroke-width="6" stroke-linecap="round"/>
<path d="M36 1543L47.5 1530L59 1543L47.5 1556Z" fill="#000" stroke="#000" stroke-width="3" stroke-linejoin="round"/>
<line x1="609.5" y1="1543" x2="635.5" y2="1543" stroke="#000" stroke-width="5" stroke-linecap="round"/>
<line x1="649.5" y1="1543" x2="676.5" y2="1543" stroke="#000" stroke-width="5" stroke-linecap="round"/>
<line x1="1215.7" y1="1540.5" x2="1269.3" y2="1540.5" stroke="#888" stroke-width="7"/>
<circle cx="32.4" cy="1674.4" r="6.8" fill="#000"/><circle cx="59" cy="1674.4" r="6.8" fill="#000"/>
<line x1="704.5" y1="1674.4" x2="750" y2="1674.4" stroke="#000" stroke-width="8.5" stroke-linecap="round"/>
</svg></body></html>
